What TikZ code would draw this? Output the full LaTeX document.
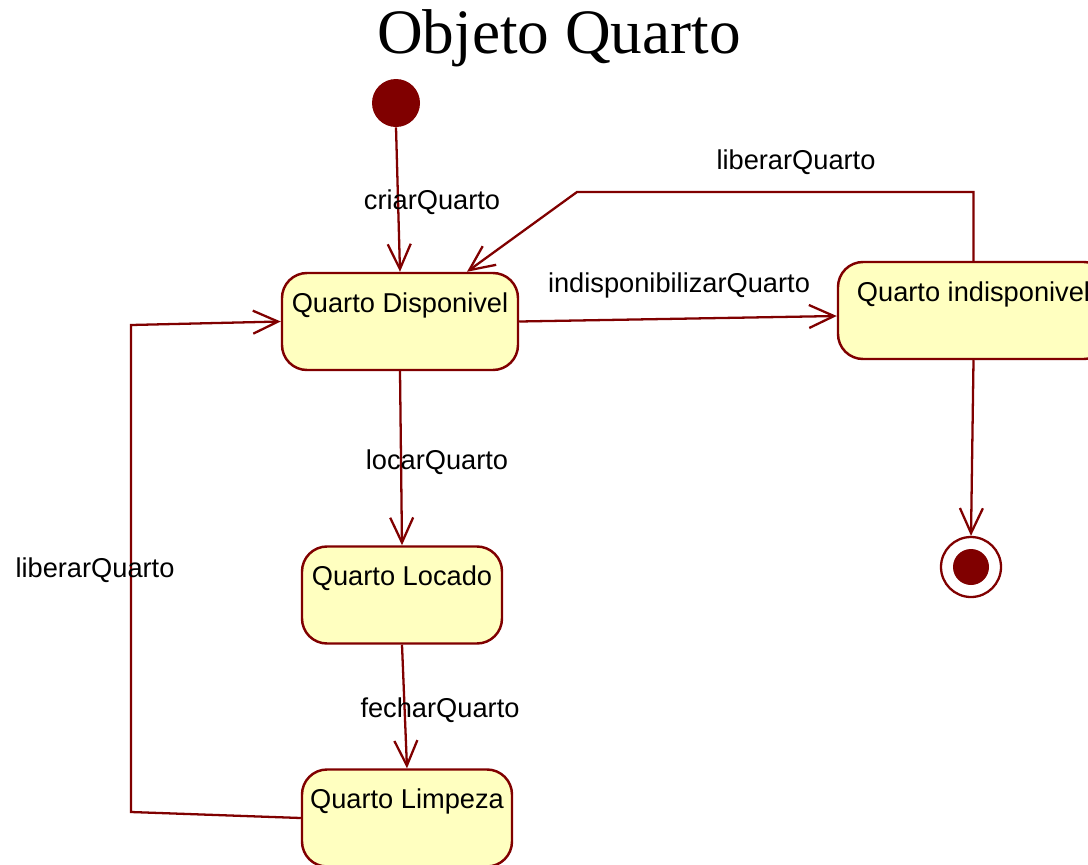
\documentclass[tikz,border=0pt]{standalone}
\usepackage{fontspec}
\setmainfont{Liberation Sans}
\newfontfamily\titlefont{Liberation Serif}
\usetikzlibrary{arrows.meta}
\definecolor{umlred}{RGB}{128,0,0}
\definecolor{umlfill}{RGB}{255,255,192}
\tikzset{
  state/.style={draw=umlred, fill=umlfill, line width=1.4pt, rounded corners=5mm,
    text height=7.8mm, text depth=11.6mm, inner ysep=0pt, inner xsep=0pt,
    font=\fontsize{15.5}{18}\selectfont},
  trans/.style={draw=umlred, line width=1.3pt,
    -{Straight Barb[length=5mm, width=4.6mm, line width=1.3pt]}},
  evt/.style={font=\fontsize{15.5}{18}\selectfont}
}
\begin{document}
\begin{tikzpicture}[x=0.2mm, y=-0.2mm]
    \useasboundingbox (0,0) rectangle (1088,864);
    \clip (0,0) rectangle (1088,864);

    \node[font=\titlefont\fontsize{36}{40}\selectfont] (title) at (559,38) {Objeto Quarto};

    % start and end pseudo states
    \node[circle, fill=umlred, minimum size=9.6mm, inner sep=0pt] (init) at (396,103) {};
    \node[circle, draw=umlred, fill=white, line width=1.3pt, minimum size=12mm, inner sep=0pt] (final) at (971,567) {};
    \fill[umlred] (final) circle (18);

    % states
    \node[state, minimum width=47.2mm] (dispo) at (400,321.5) {Quarto Disponivel};
    \node[state, minimum width=54.2mm] (indisp) at (973.5,310.5) {Quarto indisponivel};
    \node[state, minimum width=40mm] (locado) at (402,595) {Quarto Locado};
    \node[state, minimum width=42mm] (limpeza) at (407,818) {Quarto Limpeza};

    \coordinate (liberarTop) at (577,192);
    \coordinate (loopLow) at (131,812);
    \coordinate (loopHigh) at (131,325);

    % transitions
    \draw[trans] (init.south) -- (dispo.north);
    \draw[trans] (dispo.east) -- ([yshift=-1.1mm]indisp.west);
    \draw[trans] (indisp.north) |- (liberarTop) -- ([xshift=13.4mm]dispo.north);
    \draw[trans] (indisp.south) -- (final.north);
    \draw[trans] (dispo.south) -- (locado.north);
    \draw[trans] (locado.south) -- (limpeza.north);
    \draw[trans] (limpeza.west) -- (loopLow) -- (loopHigh) -- (dispo.west);

    \node[evt] (criar) at (432,202) {criarQuarto};
    \node[evt] (indispEvt) at (679,285) {indisponibilizarQuarto};
    \node[evt] (liberarA) at (796,162) {liberarQuarto};
    \node[evt] (locar) at (437,462) {locarQuarto};
    \node[evt] (fechar) at (440,710) {fecharQuarto};
    \node[evt] (liberarB) at (95,570) {liberarQuarto};
\end{tikzpicture}
\end{document}
